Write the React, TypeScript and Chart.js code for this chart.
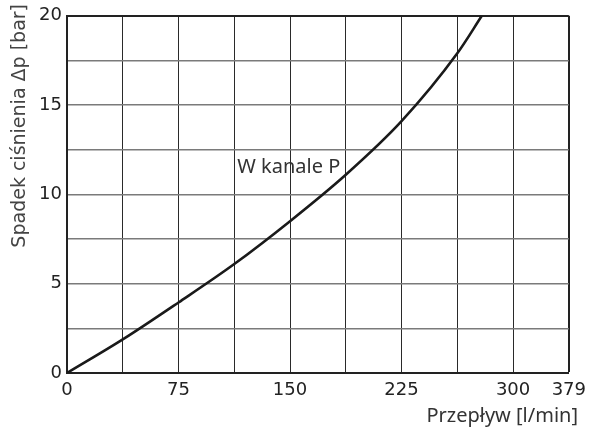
import React, { useEffect, useRef } from "react";
import { Chart, registerables } from "chart.js";

Chart.register(...registerables);

// Flow rate [l/min] and pressure drop [bar] along the curve
const flow = [0, 37.5, 75, 112.5, 150, 187.5, 225, 262.5, 279];
const pressureDrop = [0, 1.88, 3.95, 6.1, 8.5, 11.1, 14.1, 17.9, 20];

const xMax = 337.5;
const xStep = 37.5;
const xLabeled = [0, 75, 150, 225, 300];
const xEndLabel = "379";
const yMax = 20;
const yStep = 2.5;

const curveLabel = "W kanale P";
const curveLabelAt = { x: 114.5, y: 11.2 };
const yTitle = "Spadek ciśnienia Δp [bar]";
const xTitle = "Przepływ [l/min]";

const tickFont = "'DejaVu Sans', sans-serif";
const textFont = "'Noto Sans', sans-serif";

const annotations = {
  id: "annotations",
  afterDatasetsDraw(chart: any) {
    const { ctx, scales } = chart;
    ctx.save();
    ctx.fillStyle = "#333";
    ctx.font = `20px ${textFont}`;
    ctx.textAlign = "left";
    ctx.textBaseline = "alphabetic";
    ctx.fillText(
      curveLabel,
      scales.x.getPixelForValue(curveLabelAt.x),
      scales.y.getPixelForValue(curveLabelAt.y)
    );

    ctx.textAlign = "right";
    ctx.fillText(xTitle, 578, 422);

    ctx.font = `19px ${tickFont}`;
    ctx.fillStyle = "#444";
    ctx.translate(20, 4);
    ctx.rotate(-Math.PI / 2);
    ctx.textAlign = "right";
    ctx.textBaseline = "middle";
    ctx.fillText(yTitle, 0, 0);
    ctx.restore();
  },
};

export default function App() {
  const ref = useRef<HTMLCanvasElement | null>(null);

  useEffect(() => {
    if (!ref.current) return;
    const chart = new Chart(ref.current, {
      type: "line",
      data: {
        datasets: [
          {
            data: flow.map((x, i) => ({ x, y: pressureDrop[i] })),
            borderColor: "#1a1a1a",
            borderWidth: 2.6,
            pointRadius: 0,
            cubicInterpolationMode: "monotone",
            fill: false,
          },
        ],
      },
      options: {
        animation: false,
        responsive: false,
        maintainAspectRatio: false,
        layout: { padding: { top: 14, right: 18, left: 0, bottom: 0 } },
        plugins: {
          legend: { display: false },
          tooltip: { enabled: false },
        },
        scales: {
          x: {
            type: "linear",
            min: 0,
            max: xMax,
            afterFit(scale: any) {
              scale.height = 54;
            },
            border: { color: "#222", width: 2 },
            grid: {
              drawTicks: false,
              color: (c: any) => (c.tick && c.tick.value === xMax ? "#222" : "#2a2a2a"),
              lineWidth: (c: any) => (c.tick && c.tick.value === xMax ? 2 : 1),
            },
            ticks: {
              stepSize: xStep,
              autoSkip: false,
              maxRotation: 0,
              padding: 7,
              color: "#222",
              font: { family: tickFont, size: 18 },
              callback: (v: any) => {
                const n = Number(v);
                if (Math.abs(n - xMax) < 1e-6) return xEndLabel;
                return xLabeled.includes(n) ? String(n) : "";
              },
            },
          },
          y: {
            type: "linear",
            min: 0,
            max: yMax,
            afterFit(scale: any) {
              scale.width = 67;
            },
            border: { color: "#222", width: 2 },
            grid: {
              drawTicks: false,
              color: (c: any) => (c.tick && c.tick.value === yMax ? "#222" : "#7a7a7a"),
              lineWidth: (c: any) => (c.tick && c.tick.value === yMax ? 2 : 1.4),
            },
            ticks: {
              stepSize: yStep,
              autoSkip: false,
              padding: 5,
              color: "#222",
              font: { family: tickFont, size: 18 },
              callback: (v: any) => {
                const n = Number(v);
                return n % 5 === 0 ? String(n) : "";
              },
            },
          },
        },
      },
      plugins: [annotations],
    } as any);
    return () => chart.destroy();
  }, []);

  return (
    <div
      style={{
        position: "fixed",
        left: 0,
        top: 0,
        width: 593,
        height: 427,
        background: "#fff",
      }}
    >
      <canvas ref={ref} width={593} height={427} style={{ display: "block" }} />
    </div>
  );
}
